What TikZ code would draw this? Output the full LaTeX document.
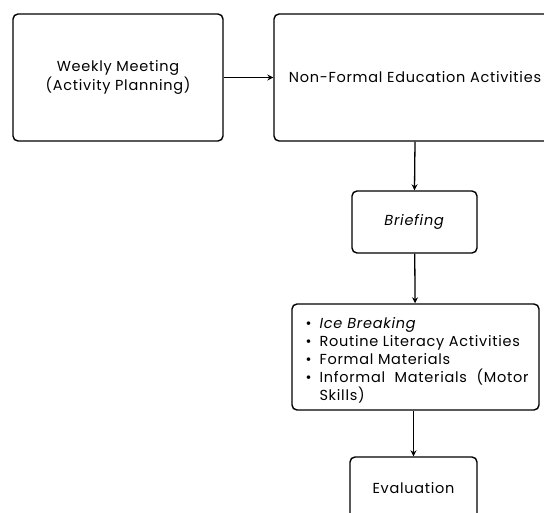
\documentclass[tikz,border=0pt]{standalone}
\usepackage{fontspec}
\setmainfont{Poppins}[LetterSpace=5]
\usepackage{enumitem}
\usetikzlibrary{positioning,arrows.meta}

\begin{document}
\begin{tikzpicture}[x=1pt,y=-1pt,
            box/.style={rectangle,draw=black,line width=1.4pt,rounded corners=5pt,align=center,font=\fontsize{14.5}{17}\selectfont},
            link/.style={-{Stealth[length=6pt,width=6pt]},line width=1.3pt}]

            \clip (0,0) rectangle (544,513);
            \node[box,minimum width=210,minimum height=127] (meeting) at (118,77.5) {Weekly Meeting\\(Activity Planning)};
            \node[box,minimum width=282,minimum height=127] (activities) at (415,77.5) {Non-Formal Education Activities};
            \node[box,minimum width=125,minimum height=62] (briefing) at (414.5,222) {\textit{Briefing}};
            \node[box,minimum width=247,minimum height=106,text width=226,align=justify,font=\fontsize{14.5}{18}\selectfont] (tasks) at (415.5,357)
               {\begin{itemize}[leftmargin=17pt,labelsep=8pt,nosep,label=\textbullet]
                  \item \textit{Ice Breaking}
                  \item Routine Literacy Activities
                  \item Formal Materials
                  \item Informal Materials (Motor\linebreak Skills)
               \end{itemize}};
            \node[box,minimum width=127,minimum height=62] (evaluation) at (413.5,488) {Evaluation};

            \draw[link] (meeting) -- (activities);
            \draw[link] (activities.south) -- (briefing.north);
            \draw[link] (briefing) -- (tasks);
            \draw[link] (tasks.south -| evaluation) -- (evaluation);
\end{tikzpicture}
\end{document}
